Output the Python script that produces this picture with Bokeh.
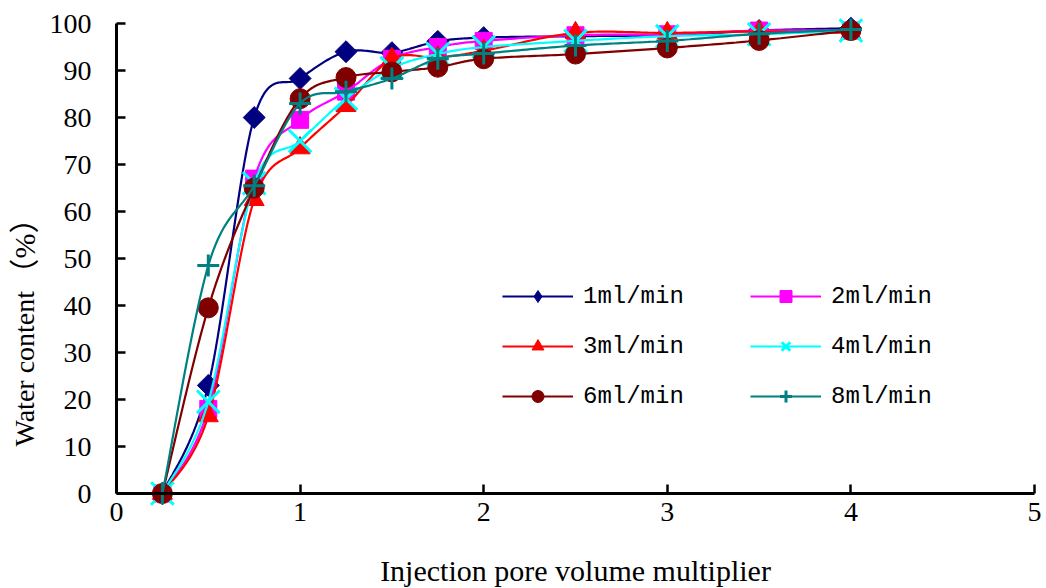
import numpy as np
from bokeh.plotting import figure
from bokeh.models import Range1d, SingleIntervalTicker, Legend, LegendItem, Label
from bokeh.core.properties import value
from bokeh.embed import file_html
from bokeh.resources import INLINE

# ---- data ----
pv = [0.25, 0.5, 0.75, 1.0, 1.25, 1.5, 1.75, 2.0, 2.5, 3.0, 3.5, 4.0]
wc_1 = [0, 23, 80, 88.3, 94, 93.8, 96.2, 97, 97.3, 97.5, 98.5, 99]
wc_2 = [0, 18, 67, 79.5, 85.5, 92.5, 95, 96.3, 97.5, 97.7, 98.5, 98.5]
wc_3 = [0, 16.5, 62.5, 73.5, 82.5, 92.5, 92.8, 94.2, 98, 98, 98.3, 98]
wc_4 = [0, 19.5, 66, 75, 84, 90.5, 93.5, 95, 96.3, 97.3, 97.7, 98.5]
wc_6 = [0, 39.5, 65, 84, 88.5, 89.7, 90.7, 92.5, 93.5, 94.8, 96.4, 98.5]
wc_8 = [0, 48.5, 65.5, 83, 85.5, 88.3, 92.5, 93.6, 95.3, 96.3, 97.8, 98.7]
labels = ["1ml/min", "2ml/min", "3ml/min", "4ml/min", "6ml/min", "8ml/min"]
x_tick_values = [0, 1, 2, 3, 4, 5]
x_tick_labels = ["0", "1", "2", "3", "4", "5"]
y_tick_values = [0, 10, 20, 30, 40, 50, 60, 70, 80, 90, 100]
y_tick_labels = ["0", "10", "20", "30", "40", "50", "60", "70", "80", "90", "100"]


def smooth(xs, ys, n=24):
    P = np.column_stack([xs, ys]).astype(float)
    ext = np.vstack([P[0], P, P[-1]])
    out = []
    for i in range(len(P) - 1):
        p0, p1, p2, p3 = ext[i], ext[i + 1], ext[i + 2], ext[i + 3]
        c1 = p1 + (p2 - p0) / 6.0
        c2 = p2 - (p3 - p1) / 6.0
        t = np.linspace(0, 1, n, endpoint=(i == len(P) - 2))[:, None]
        b = ((1 - t) ** 3) * p1 + 3 * ((1 - t) ** 2) * t * c1 + 3 * (1 - t) * t ** 2 * c2 + t ** 3 * p2
        out.append(b)
    o = np.vstack(out)
    return o[:, 0], o[:, 1]


# frame covers the whole canvas; axes are placed at data 0 (x=0 at 116px, y=0 at 493px)
XPX = 183.6
YPX = 4.7
p = figure(width=1046, height=588,
           x_range=Range1d(-116 / XPX, (1046 - 116) / XPX),
           y_range=Range1d(-95 / YPX, 493 / YPX),
           output_backend="svg", toolbar_location=None,
           min_border_left=0, min_border_right=0, min_border_top=0, min_border_bottom=0)
p.outline_line_color = None
p.grid.visible = False

serif = "Liberation Serif"
for ax in (p.xaxis[0], p.yaxis[0]):
    ax.axis_line_width = 3
    ax.axis_line_color = "black"
    ax.major_tick_line_width = 2.5
    ax.major_tick_in = 9
    ax.major_tick_out = 0
    ax.minor_tick_line_color = None
    ax.major_label_text_color = None
    ax.fixed_location = 0

p.xaxis.ticker = SingleIntervalTicker(interval=1)
p.yaxis.ticker = SingleIntervalTicker(interval=10)
p.xaxis.bounds = (0, 5)
p.yaxis.bounds = (0, 100)

# tick labels (serif)
p.text(x=x_tick_values, y=[0] * len(x_tick_values), text=x_tick_labels, y_offset=9,
       text_align="center", text_baseline="top", text_font=value(serif),
       text_font_size="28px", text_color="black")
p.text(x=[0] * len(y_tick_values), y=y_tick_values, text=y_tick_labels, x_offset=-25,
       text_align="right", text_baseline="middle", text_font=value(serif),
       text_font_size="28px", text_color="black")

# axis titles
p.add_layout(Label(x=2.5, y=-16.4, text="Injection pore volume multiplier",
                   text_align="center", text_baseline="middle", text_font=serif,
                   text_font_size="30px", text_color="black"))
p.add_layout(Label(x=-0.5, y=10.0, text="Water content", angle=np.pi / 2,
                   text_align="left", text_baseline="middle", text_font=serif,
                   text_font_size="28px", text_color="black"))
p.add_layout(Label(x=-0.5, y=43.6, text="（%）", angle=np.pi / 2,
                   text_align="left", text_baseline="middle",
                   text_font="Liberation Serif, Noto Sans CJK SC",
                   text_font_size="30px", text_color="black"))

styles = [
    (wc_1, "#000080", "square", 15.5, np.pi / 4),
    (wc_2, "#FF00FF", "square", 17, 0),
    (wc_3, "#FF0000", "triangle", 20, 0),
    (wc_4, "#00FFFF", "x", 32, 0),
    (wc_6, "#800000", "circle", 20, 0),
    (wc_8, "#008080", "cross", 22, 0),
]

items = []
for k, ((ys, col, mk, sz, ang), lab) in enumerate(zip(styles, labels)):
    sx, sy = smooth(pv, ys)
    lr = p.line(sx, sy, line_color=col, line_width=2.2)
    leg_r = None
    if k == 0:
        # diamond drawn beneath the rotated squares; used as the legend symbol
        leg_r = p.scatter(pv, ys, marker="diamond", size=19, line_color=col, fill_color=col)
    if mk in ("x", "cross"):
        mr = p.scatter(pv, ys, marker=mk, size=sz, line_color=col, line_width=3, fill_color=None)
    else:
        mr = p.scatter(pv, ys, marker=mk, size=sz, angle=ang, line_color=col, fill_color=col, line_width=1)
    items.append(LegendItem(label=lab, renderers=[lr, leg_r if leg_r is not None else mr]))


def mk_legend(its, loc):
    lg = Legend(items=its, location=loc, padding=0, margin=0, spacing=20,
                glyph_width=71, glyph_height=30, label_height=30, label_standoff=10,
                label_text_font="Liberation Mono", label_text_font_size="24px",
                label_text_color="black", border_line_color=None, background_fill_alpha=0)
    return lg


p.add_layout(mk_legend([items[0], items[2], items[4]], (502, 177)))
p.add_layout(mk_legend([items[1], items[3], items[5]], (750, 177)))

open("out.html", "w").write(file_html(p, INLINE))
